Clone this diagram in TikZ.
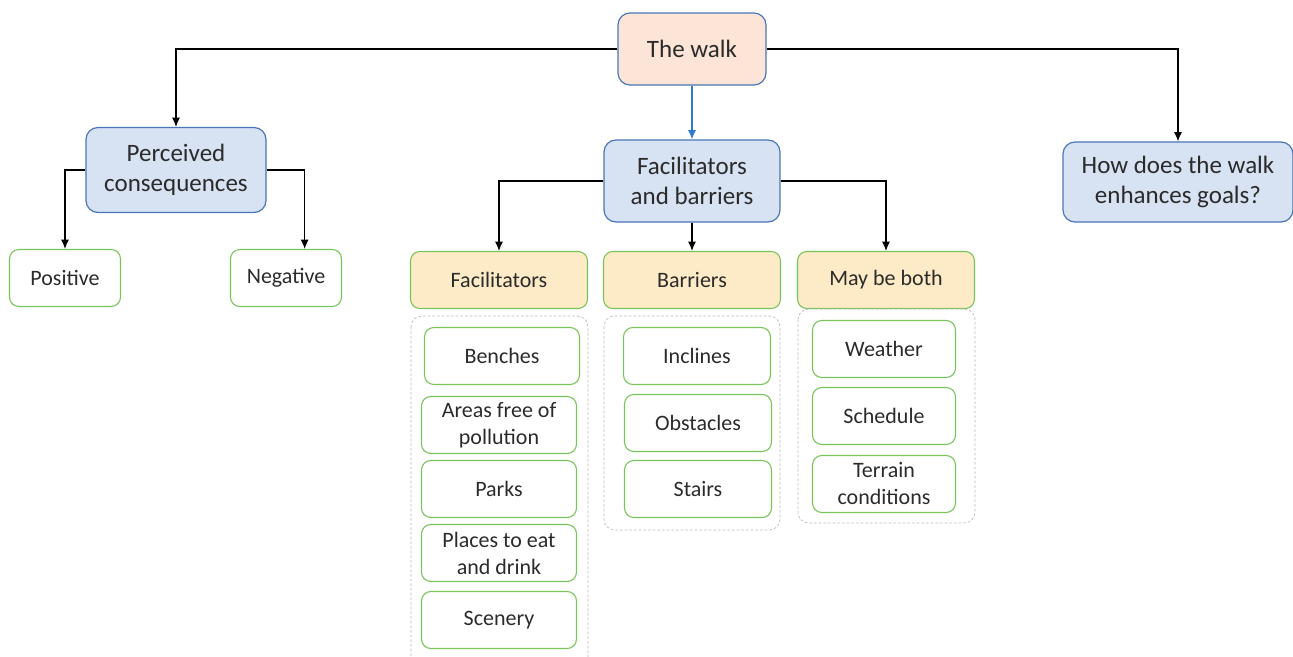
\documentclass[tikz,border=0pt]{standalone}
\usepackage{fontspec}
\setmainfont{Carlito}
\usetikzlibrary{arrows.meta}
\definecolor{boxblue}{HTML}{4A76B8}
\definecolor{fillblue}{HTML}{D7E2F2}
\definecolor{fillpeach}{HTML}{FCE4D6}
\definecolor{fillyellow}{HTML}{FCEBC6}
\definecolor{boxgreen}{HTML}{78C45A}
\definecolor{linkblue}{HTML}{2E7BD6}
\definecolor{txt}{HTML}{2B2B2B}
\tikzset{
	main/.style={draw=boxblue, line width=0.9pt, rounded corners=9pt, align=center, text=txt, font=\fontsize{18.75}{22.5}\selectfont},
	topic/.style={main, fill=fillblue},
	leaf/.style={draw=boxgreen, line width=0.8pt, rounded corners=7pt, align=center, text=txt, minimum height=42.75pt, font=\fontsize{16.5}{20.25}\selectfont},
	cat/.style={leaf, fill=fillyellow, minimum width=132.75pt},
	groupbox/.style={draw=gray!55, dash pattern=on 2pt off 1.5pt, line width=0.5pt, rounded corners=8pt},
	arr/.style={-{Latex[length=7pt,width=6pt]}, line width=0.8pt, black}
}
\begin{document}
\begin{tikzpicture}[x=0.75pt, y=-0.75pt]
			\useasboundingbox (0,0) rectangle (1293,657);
			\node[main, fill=fillpeach, minimum width=111pt, minimum height=54pt] (walk) at (692,49) {The walk};
			\node[topic, minimum width=135pt, minimum height=63.75pt] (perc) at (176,170) {Perceived\\consequences};
			\node[topic, minimum width=132pt, minimum height=61.5pt] (fb) at (692,181) {Facilitators\\and barriers};
			\node[topic, minimum width=172.5pt, minimum height=60pt] (goals) at (1178,182) {How does the walk\\enhances goals?};
			\node[leaf, minimum width=83.25pt] (pos) at (65,278) {Positive};
			\node[leaf, minimum width=83.25pt] (neg) at (286,278) {Negative};
			\node[cat] (fac) at (499,280) {Facilitators};
			\node[cat] (bar) at (692,280) {Barriers};
			\node[cat] (both) at (886,280) {May be both};
			\draw[groupbox] (411,316) rectangle (588,672);
			\draw[groupbox] (604,316) rectangle (780,530);
			\draw[groupbox] (798,309) rectangle (975,523);
			\node[leaf, minimum width=116.25pt] (benches) at (502,356) {Benches};
			\node[leaf, minimum width=116.25pt] (areas) at (499,425) {Areas free of\\pollution};
			\node[leaf, minimum width=116.25pt] (parks) at (499,489) {Parks};
			\node[leaf, minimum width=116.25pt] (places) at (499,553) {Places to eat\\and drink};
			\node[leaf, minimum width=116.25pt] (scenery) at (499,620) {Scenery};
			\node[leaf, minimum width=110.25pt] (inclines) at (697,356) {Inclines};
			\node[leaf, minimum width=110.25pt] (obstacles) at (698,423) {Obstacles};
			\node[leaf, minimum width=110.25pt] (stairs) at (698,489) {Stairs};
			\node[leaf, minimum width=107.25pt] (weather) at (884,349) {Weather};
			\node[leaf, minimum width=107.25pt] (schedule) at (884,416) {Schedule};
			\node[leaf, minimum width=107.25pt] (terrain) at (884,484) {Terrain\\conditions};
			\draw[arr] (walk.west) -| (perc.north);
			\draw[arr] (walk.east) -| (goals.north);
			\draw[arr, draw=linkblue, fill=linkblue] (walk.south) -- (fb.north);
			\draw[arr] (perc.west) -| (pos.north);
			\draw[arr] (perc.east) -| ([xshift=14pt]neg.north);
			\draw[arr] (fb.west) -| (fac.north);
			\draw[arr] (fb.south) -- (bar.north);
			\draw[arr] (fb.east) -| (both.north);
		\end{tikzpicture}
\end{document}
